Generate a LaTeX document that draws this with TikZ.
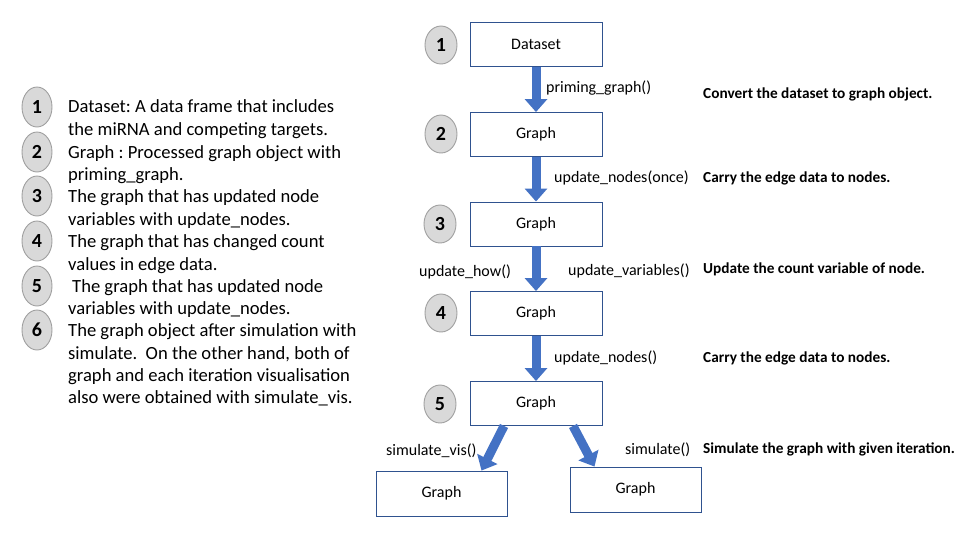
\documentclass[tikz,border=0pt]{standalone}
\usepackage{fontspec}
\setmainfont{Carlito}
\usetikzlibrary{arrows.meta,calc,shapes.geometric}
\definecolor{boxblue}{HTML}{2F528F}
\definecolor{arrowblue}{HTML}{4472C4}
\definecolor{circfill}{HTML}{D9D9D9}
\definecolor{circline}{HTML}{A0A0A0}
\frenchspacing
\begin{document}
\begin{tikzpicture}[x=1pt,y=-1pt,
  stepbox/.style={draw=boxblue, line width=0.9pt, fill=white, minimum width=132pt,
    minimum height=44pt, inner sep=0pt, font=\fontsize{16}{19}\selectfont},
  numc/.style={ellipse, draw=circline, fill=circfill, line width=0.9pt,
    minimum width=32pt, minimum height=38pt, inner sep=0pt,
    font=\bfseries\fontsize{20}{24}\selectfont},
  lnum/.style={numc, minimum width=30pt, minimum height=40pt},
  blockarrow/.style={draw=arrowblue, line width=9pt,
    -{Triangle[length=13pt,width=22pt]}},
  lab/.style={anchor=base west, inner sep=0pt, font=\fontsize{16}{19}\selectfont},
  desc/.style={anchor=base west, inner sep=0pt, font=\bfseries\fontsize{15.3}{18}\selectfont},
  listline/.style={anchor=base west, inner sep=0pt, font=\fontsize{18.6}{22.3}\selectfont}
]
\useasboundingbox (0,0) rectangle (961,542);

% left list
\foreach \n/\yy in {1/107,2/152,3/196,4/241,5/286,6/330}
  \node[lnum] (c\n) at (37,\yy) {\n};
\foreach \t/\yy [count=\i] in {
  {Dataset: A data frame that includes}/106,
  {the miRNA and competing targets.}/129,
  {Graph : Processed graph object with}/152,
  {priming\_graph.}/174,
  {The graph that has updated node}/196,
  {variables with update\_nodes.}/219,
  {The graph that has changed count}/241,
  {values in edge data.}/264,
  {\hspace{4pt}The graph that has updated node}/286,
  {variables with update\_nodes.}/308,
  {The graph object after simulation with}/330,
  {simulate.\ \ On the other hand, both of}/353,
  {graph and each iteration visualisation}/375,
  {also were obtained with simulate\_vis.}/397}
  \node[listline] (l\i) at (68,\yy+6.5) {\t};

% flow boxes
\node[stepbox] (d)  at (536,44.5)  {Dataset};
\node[stepbox] (g2) at (536,134.5) {Graph};
\node[stepbox] (g3) at (536,224)   {Graph};
\node[stepbox] (g4) at (536,313.5) {Graph};
\node[stepbox] (g5) at (536,403.5) {Graph};
\node[stepbox, minimum width=131pt, minimum height=45pt] (gl) at (441.5,493.5) {Graph};
\node[stepbox, minimum width=131pt, minimum height=45pt] (gr) at (635.5,489.5) {Graph};

% step numbers
\node[numc] (n1) at (441,45)  {1};
\node[numc] (n2) at (441,134) {2};
\node[numc] (n3) at (440,224) {3};
\node[numc] (n4) at (441,313) {4};
\node[numc] (n5) at (440,404) {5};

% arrows
\draw[blockarrow] (d.south)  -- (g2.north);
\draw[blockarrow] (g2.south) -- (g3.north);
\draw[blockarrow] (g3.south) -- (g4.north);
\draw[blockarrow] (g4.south) -- (g5.north);
\draw[blockarrow] ($(g5.south)+(-32,0)$) -- ($(gl.north)+(40,0)$);
\draw[blockarrow] ($(g5.south)+(37,0)$) -- ($(gr.north)+(-41,0)$);

% function labels
\node[lab] (f1) at (546,92.5)  {priming\_graph()};
\node[lab] (f2) at (554,182.5) {update\_nodes(once)};
\node[lab] (f3) at (419,276.5) {update\_how()};
\node[lab] (f4) at (568,275.5) {update\_variables()};
\node[lab] (f5) at (554,362.5) {update\_nodes()};
\node[lab] (f6) at (386,455.5) {simulate\_vis()};
\node[lab] (f7) at (625,454.5) {simulate()};

% descriptions
\node[desc] (e1) at (703,98)  {Convert the dataset to graph object.};
\node[desc] (e2) at (703,182) {Carry the edge data to nodes.};
\node[desc] (e3) at (703,273) {Update the count variable of node.};
\node[desc] (e4) at (703,362) {Carry the edge data to nodes.};
\node[desc] (e5) at (703,453) {Simulate the graph with given iteration.};
\end{tikzpicture}
\end{document}
